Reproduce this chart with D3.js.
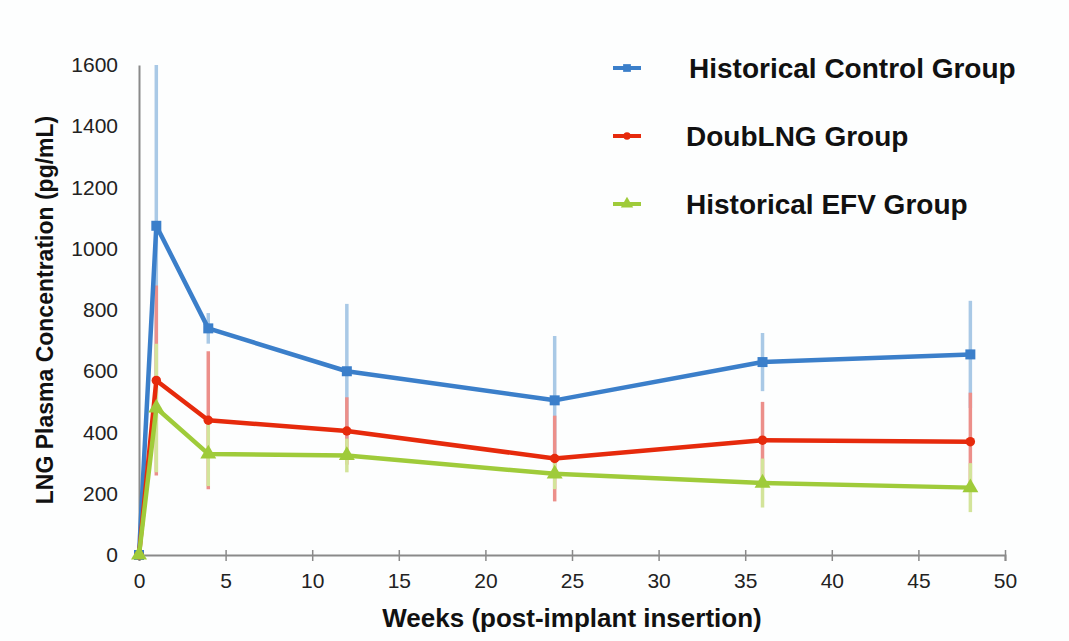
<!DOCTYPE html>
<html>
<head>
<meta charset="utf-8">
<script src="https://cdn.jsdelivr.net/npm/d3@7"></script>
<style>
  body { margin: 0; background: #fdfefe; }
  text { font-family: "Liberation Sans", Arial, sans-serif; }
</style>
</head>
<body>
<div class="chart-container"></div>
<script>
// data
const weeks = [0, 1, 4, 12, 24, 36, 48]
const controlMean = [0, 1075, 740, 600, 505, 630, 655]
const controlSd = [0, 525, 50, 220, 210, 95, 175]
const doubMean = [0, 570, 440, 405, 315, 375, 370]
const doubSd = [0, 310, 225, 110, 140, 125, 160]
const efvMean = [0, 480, 330, 325, 265, 235, 220]
const efvSd = [0, 210, 105, 55, 50, 80, 80]
const xTicks = [0, 5, 10, 15, 20, 25, 30, 35, 40, 45, 50]
const yTicks = [0, 200, 400, 600, 800, 1000, 1200, 1400, 1600]

const series = [
  { name: 'Historical Control Group', mean: controlMean, sd: controlSd, line: '#3b7fca', err: '#a9c9e6', marker: 'square' },
  { name: 'DoubLNG Group', mean: doubMean, sd: doubSd, line: '#e62a0c', err: '#ec8f8a', marker: 'circle' },
  { name: 'Historical EFV Group', mean: efvMean, sd: efvSd, line: '#9fcb3a', err: '#d3e49a', marker: 'triangle' }
]

const width = 1069, height = 641
const margin = { left: 139, right: 64, top: 65, bottom: 86 }

const svg = d3.select('.chart-container')
  .append('svg')
  .attr('width', width)
  .attr('height', height)

const x = d3.scaleLinear().domain([0, 50]).range([margin.left, width - margin.right])
const y = d3.scaleLinear().domain([0, 1600]).range([height - margin.bottom, margin.top])

// axes
const xAxis = svg.append('g')
  .attr('transform', `translate(0,${y(0)})`)
  .call(d3.axisBottom(x).tickValues(xTicks).tickSize(6).tickPadding(12))

xAxis.select('.domain').attr('stroke', '#8a8a8a').attr('stroke-width', 2)
xAxis.selectAll('.tick line').attr('stroke', '#8a8a8a').attr('stroke-width', 1.5).attr('y1', -5).attr('y2', 6)
xAxis.selectAll('.tick text').attr('fill', '#222').style('font-size', '21px')

const yAxis = svg.append('g')
  .attr('transform', `translate(${x(0)},0)`)
  .call(d3.axisLeft(y).tickValues(yTicks).tickFormat(d3.format('d')).tickSize(0).tickPadding(21))

yAxis.select('.domain').attr('stroke', '#8a8a8a').attr('stroke-width', 2)
yAxis.selectAll('.tick text').attr('fill', '#222').style('font-size', '21px')

svg.append('text')
  .attr('x', (x(0) + x(50)) / 2)
  .attr('y', 627)
  .attr('text-anchor', 'middle')
  .style('font-size', '26px')
  .style('font-weight', 'bold')
  .attr('fill', '#111')
  .text('Weeks (post-implant insertion)')

svg.append('text')
  .attr('transform', `translate(53,${(y(0) + y(1600)) / 2}) rotate(-90)`)
  .attr('text-anchor', 'middle')
  .style('font-size', '23px')
  .style('font-weight', 'bold')
  .attr('fill', '#111')
  .text('LNG Plasma Concentration (pg/mL)')

// error bars
series.forEach(s => {
  svg.append('g')
    .selectAll('line')
    .data(weeks.map((w, i) => ({ w, m: s.mean[i], sd: s.sd[i] })).filter(d => d.sd > 0))
    .enter()
    .append('line')
    .attr('x1', d => x(d.w))
    .attr('x2', d => x(d.w))
    .attr('y1', d => y(d.m + d.sd))
    .attr('y2', d => y(Math.max(0, d.m - d.sd)))
    .attr('stroke', s.err)
    .attr('stroke-width', 3.5)
})

const line = d3.line()
  .x((d, i) => x(weeks[i]))
  .y(d => y(d))

const symbolFor = m => m === 'square' ? d3.symbolSquare : m === 'circle' ? d3.symbolCircle : d3.symbolTriangle
const sizeFor = m => m === 'square' ? 100 : m === 'circle' ? 70 : 110

series.forEach(s => {
  svg.append('path')
    .datum(s.mean)
    .attr('d', line)
    .attr('fill', 'none')
    .attr('stroke', s.line)
    .attr('stroke-width', 4.5)
    .attr('stroke-linejoin', 'round')

  svg.append('g')
    .selectAll('path')
    .data(s.mean)
    .enter()
    .append('path')
    .attr('d', d3.symbol().type(symbolFor(s.marker)).size(sizeFor(s.marker)))
    .attr('transform', (d, i) => `translate(${x(weeks[i])},${y(d)})`)
    .attr('fill', s.line)
})

// legend
const legend = svg.append('g')
series.forEach((s, i) => {
  const ly = 68 + i * 68
  legend.append('line')
    .attr('x1', 613).attr('x2', 641)
    .attr('y1', ly).attr('y2', ly)
    .attr('stroke', s.line)
    .attr('stroke-width', 4)
  legend.append('path')
    .attr('d', d3.symbol().type(symbolFor(s.marker)).size(sizeFor(s.marker) * 0.6))
    .attr('transform', `translate(627,${ly})`)
    .attr('fill', s.line)
  legend.append('text')
    .attr('x', i === 0 ? 689 : 686)
    .attr('y', ly)
    .attr('dy', '0.35em')
    .style('font-size', '28px')
    .style('font-weight', 'bold')
    .attr('fill', '#111')
    .text(s.name)
})
</script>
</body>
</html>
